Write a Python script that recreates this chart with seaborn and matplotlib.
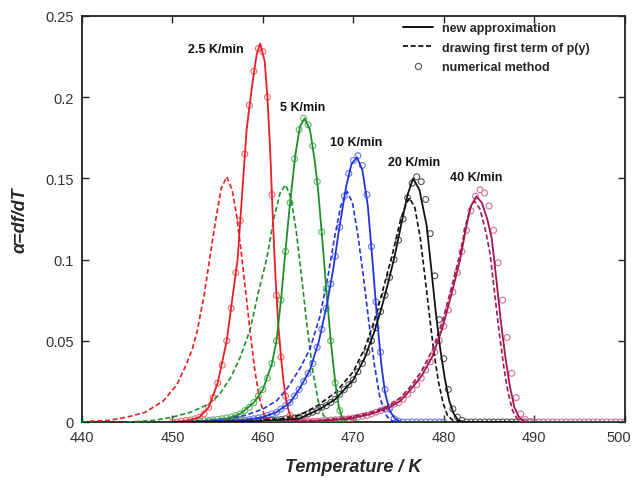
import numpy as np
import pandas as pd
import seaborn as sns
import matplotlib
matplotlib.use("Agg")
import matplotlib.pyplot as plt
import matplotlib.transforms as mtransforms
from matplotlib.lines import Line2D

# ---- data (T in K, alpha = df/dT) ----
rates = ["2.5 K/min", "5 K/min", "10 K/min", "20 K/min", "40 K/min"]
colors = ["#ee1c24", "#1f8f2a", "#2233e0", "#111111", "#a3164e"]
circle_colors = ["#f06a70", "#5fb868", "#6a78f0", "#555555", "#d0709a"]

# new approximation (solid)
red_T = [450, 451, 452, 453, 454, 455, 456, 456.6, 457.2, 457.7, 458.2, 458.8, 459.3, 459.7,
         460.2, 460.5, 460.8, 461.1, 461.4, 461.7, 462.0, 462.3, 462.6, 463.0, 463.5, 464, 470]
red_a = [0, 0.0005, 0.0012, 0.003, 0.009, 0.024, 0.05, 0.075, 0.10, 0.14, 0.18, 0.207, 0.226, 0.233,
         0.222, 0.20, 0.168, 0.125, 0.088, 0.06, 0.04, 0.024, 0.012, 0.004, 0.001, 0, 0]
green_T = [450, 454, 456, 457.5, 459, 460, 461, 461.5, 462, 462.4, 463, 463.6, 464.1, 464.6,
           465.2, 465.7, 466.1, 466.6, 467, 467.5, 468, 468.4, 468.8, 469.3, 470]
green_a = [0, 0.0005, 0.002, 0.005, 0.012, 0.02, 0.036, 0.05, 0.075, 0.1, 0.135, 0.165, 0.182, 0.187,
           0.18, 0.162, 0.143, 0.11, 0.082, 0.05, 0.024, 0.009, 0.002, 0, 0]
blue_T = [450, 456, 458, 460, 461.5, 463, 464, 465.2, 466.2, 467.1, 467.8, 468.4, 469.2, 469.8, 470.4,
          471, 471.6, 472.1, 472.6, 473.1, 473.5, 474, 474.6, 475.3, 480]
blue_a = [0, 0.0005, 0.001, 0.003, 0.006, 0.012, 0.02, 0.032, 0.05, 0.073, 0.095, 0.118, 0.145, 0.159, 0.163,
          0.155, 0.133, 0.1, 0.065, 0.035, 0.018, 0.007, 0.002, 0, 0]
black_T = [450, 460, 464, 466.3, 468, 470, 471.3, 472.4, 473.2, 473.9, 474.6, 475.3, 476.0, 476.6,
           477.3, 478.1, 478.6, 479.1, 479.6, 480.1, 480.6, 481.1, 481.6, 482.3, 488]
black_a = [0, 0.0005, 0.002, 0.008, 0.014, 0.026, 0.04, 0.057, 0.072, 0.087, 0.103, 0.122, 0.140, 0.150,
           0.143, 0.121, 0.095, 0.068, 0.045, 0.027, 0.013, 0.005, 0.001, 0, 0]
crim_T = [460, 466, 469.6, 472, 474, 475.2, 476.2, 477.5, 478.8, 479.9, 480.9, 481.8, 482.5, 483.0, 483.6,
          484.2, 484.8, 485.3, 485.8, 486.3, 486.8, 487.3, 487.8, 488.3, 488.8, 489.5, 500]
crim_a = [0, 0.0005, 0.002, 0.005, 0.009, 0.013, 0.019, 0.028, 0.041, 0.059, 0.08, 0.1, 0.121, 0.133, 0.139,
          0.135, 0.125, 0.113, 0.088, 0.062, 0.04, 0.022, 0.009, 0.003, 0.0005, 0, 0]

# drawing first term of p(y) (dashed)
red_d_T = [440, 441, 443, 445, 447, 449, 450.5, 451.5, 452.2, 452.7, 453.5, 454.1, 454.8, 455.4, 456.0,
           456.6, 457.1, 457.6, 458.1, 458.6, 459.1, 459.6, 460.1, 460.6, 461.5, 470]
red_d_a = [0, 0.0005, 0.001, 0.003, 0.006, 0.013, 0.023, 0.035, 0.045, 0.055, 0.078, 0.100, 0.125, 0.144, 0.151,
           0.143, 0.127, 0.105, 0.080, 0.055, 0.032, 0.015, 0.005, 0.001, 0, 0]
green_d_T = [445, 448, 450, 452, 454, 455.2, 456.5, 457.5, 458.6, 459.5, 460.4, 461.2, 461.9, 462.5,
             463.1, 463.7, 464.3, 464.9, 465.5, 466.1, 466.7, 467.3, 468, 470]
green_d_a = [0, 0.001, 0.003, 0.006, 0.011, 0.017, 0.028, 0.04, 0.057, 0.08, 0.1, 0.125, 0.141, 0.146,
             0.138, 0.117, 0.088, 0.058, 0.032, 0.013, 0.004, 0.001, 0, 0]
blue_d_T = [450, 453, 456, 458, 460, 461.5, 462.6, 464.1, 465.2, 466.3, 467.2, 467.9, 468.6, 469.3,
            469.9, 470.5, 471.1, 471.7, 472.3, 472.9, 473.5, 474.1, 475, 480]
blue_d_a = [0, 0.0005, 0.002, 0.004, 0.008, 0.013, 0.02, 0.033, 0.045, 0.065, 0.09, 0.113, 0.133, 0.142,
            0.135, 0.115, 0.09, 0.062, 0.036, 0.016, 0.005, 0.001, 0, 0]
black_d_T = [450, 459, 462, 464, 466, 468, 470, 471.3, 472.3, 473.2, 474.3, 475.2, 475.8, 476.2,
             476.8, 477.4, 477.9, 478.4, 478.9, 479.4, 479.9, 480.4, 481, 481.8, 488]
black_d_a = [0, 0.0008, 0.002, 0.004, 0.01, 0.018, 0.031, 0.046, 0.062, 0.08, 0.103, 0.124, 0.134, 0.138,
             0.132, 0.113, 0.09, 0.066, 0.043, 0.025, 0.012, 0.004, 0.001, 0, 0]
crim_d_T = [460, 466, 469.6, 472, 474, 475.2, 476.2, 477.5, 478.8, 479.9, 480.9, 481.8, 482.5, 483.0, 483.4,
            484.0, 484.6, 485.1, 485.6, 486.1, 486.6, 487.1, 487.6, 488.1, 488.7, 500]
crim_d_a = [0, 0.0008, 0.003, 0.006, 0.01, 0.015, 0.021, 0.031, 0.045, 0.063, 0.084, 0.104, 0.123, 0.133, 0.136,
            0.131, 0.118, 0.104, 0.08, 0.056, 0.035, 0.018, 0.007, 0.002, 0, 0]

# numerical method (circles), sampled every 0.5 K from the given start
circ_start = [450, 452, 454, 456, 464]
red_c = [0, 0, 0.0005, 0.001, 0.0012, 0.002, 0.003, 0.005, 0.009, 0.015,
         0.024, 0.035, 0.05, 0.07, 0.092, 0.124, 0.165, 0.195, 0.216, 0.23,
         0.228, 0.20, 0.14, 0.078, 0.04, 0.016, 0.004, 0.001, 0, 0,
         0, 0, 0, 0, 0, 0, 0, 0, 0, 0, 0]
green_c = [0, 0, 0.0005, 0.0007, 0.001, 0.0013, 0.0016, 0.002, 0.0025, 0.003,
           0.004, 0.005, 0.007, 0.009, 0.012, 0.016, 0.02, 0.027, 0.036, 0.05,
           0.075, 0.105, 0.135, 0.162, 0.18, 0.187, 0.183, 0.17, 0.148, 0.117,
           0.082, 0.05, 0.024, 0.007, 0.001, 0, 0]
blue_c = [0, 0, 0, 0.0005, 0.0005, 0.0007, 0.0008, 0.001, 0.001, 0.0015,
          0.002, 0.0025, 0.003, 0.004, 0.005, 0.006, 0.008, 0.01, 0.012, 0.016,
          0.02, 0.025, 0.03, 0.036, 0.046, 0.057, 0.07, 0.085, 0.102, 0.12,
          0.139, 0.153, 0.161, 0.164, 0.158, 0.14, 0.108, 0.074, 0.043, 0.02,
          0.008, 0.002, 0.0005, 0, 0, 0, 0, 0, 0, 0,
          0, 0, 0]
black_c = [0, 0, 0, 0, 0, 0.0003, 0.0005, 0.0006, 0.0008, 0.001,
           0.001, 0.0013, 0.0015, 0.002, 0.002, 0.0025, 0.003, 0.004, 0.005, 0.006,
           0.007, 0.009, 0.01, 0.012, 0.014, 0.017, 0.02, 0.023, 0.026, 0.031,
           0.036, 0.043, 0.05, 0.058, 0.068, 0.078, 0.089, 0.1, 0.112, 0.125,
           0.138, 0.147, 0.151, 0.148, 0.137, 0.116, 0.09, 0.063, 0.039, 0.02,
           0.008, 0.003, 0.001, 0, 0, 0, 0, 0, 0, 0,
           0, 0, 0, 0, 0, 0, 0, 0, 0]
crim_c = [0, 0, 0.0003, 0.0004, 0.0005, 0.0007, 0.001, 0.0012, 0.0014, 0.0016,
          0.0018, 0.002, 0.0025, 0.003, 0.0035, 0.004, 0.005, 0.006, 0.007, 0.008,
          0.009, 0.011, 0.012, 0.014, 0.017, 0.02, 0.023, 0.027, 0.032, 0.037,
          0.043, 0.05, 0.059, 0.069, 0.08, 0.092, 0.105, 0.118, 0.13, 0.139,
          0.143, 0.141, 0.133, 0.118, 0.098, 0.075, 0.052, 0.03, 0.015, 0.005,
          0.0015, 0.0003, 0, 0, 0, 0, 0, 0, 0, 0,
          0, 0, 0, 0, 0, 0, 0, 0, 0, 0,
          0, 0, 0]

label_T = [454.8, 464.4, 470.3, 476.7, 483.6]
label_a = [0.2297, 0.194, 0.1724, 0.160, 0.1509]

solid = [(red_T, red_a), (green_T, green_a), (blue_T, blue_a), (black_T, black_a), (crim_T, crim_a)]
dashed = [(red_d_T, red_d_a), (green_d_T, green_d_a), (blue_d_T, blue_d_a),
          (black_d_T, black_d_a), (crim_d_T, crim_d_a)]
circles = [red_c, green_c, blue_c, black_c, crim_c]

# ---- plot ----
sns.set_style("ticks")
plt.rcParams["font.family"] = ["Liberation Sans", "DejaVu Sans"]

fig = plt.figure(figsize=(6.33, 4.81), dpi=100)
ax = fig.add_axes([0.1295, 0.1206, 0.8575, 0.8441])

for i, rate in enumerate(rates):
    c = colors[i]
    circ_T = circ_start[i] + 0.5 * np.arange(len(circles[i]))
    sns.scatterplot(x=circ_T, y=circles[i], ax=ax, marker="o", s=18,
                    facecolor="none", edgecolor=circle_colors[i], linewidth=0.8, zorder=2)
    sns.lineplot(x=dashed[i][0], y=dashed[i][1], ax=ax, color=c, linewidth=1.2,
                 linestyle=(0, (3, 1.6)), zorder=3)
    sns.lineplot(x=solid[i][0], y=solid[i][1], ax=ax, color=c, linewidth=1.3, zorder=4)
    ax.text(label_T[i], label_a[i], rate, ha="center", va="center",
            fontsize=9, fontweight="bold", color="#111111")

ax.set_xlim(440, 500)
ax.set_ylim(0, 0.25)
ax.set_xticks([440, 450, 460, 470, 480, 490, 500])
ax.set_yticks([0, 0.05, 0.1, 0.15, 0.2, 0.25])
ax.set_yticklabels(["0", "0.05", "0.1", "0.15", "0.2", "0.25"])
ax.tick_params(direction="in", length=5, width=1, top=True, right=True,
               labelsize=10.5, labelcolor="#333333", pad=6)
for sp in ax.spines.values():
    sp.set_linewidth(1.3)
    sp.set_color("#222222")

# last x label sits a little left so it stays inside the figure, as in the reference
last = ax.get_xticklabels()[-1]
last.set_transform(last.get_transform() +
                   mtransforms.ScaledTranslation(-6 / 100, 0, fig.dpi_scale_trans))

ax.set_xlabel("Temperature / K", fontsize=13, fontweight="bold", fontstyle="italic", labelpad=10)
ax.set_ylabel("α=df/dT", fontsize=13, fontweight="bold", fontstyle="italic", labelpad=12)

handles = [Line2D([], [], color="black", linewidth=1.3),
           Line2D([], [], color="black", linewidth=1.2, linestyle=(0, (3, 1.6))),
           Line2D([], [], color="#555555", marker="o", linestyle="none", markersize=4.5,
                  markerfacecolor="none", markeredgewidth=0.8)]
leg = ax.legend(handles, ["new approximation", "drawing first term of p(y)", "numerical method"],
                loc="upper left", bbox_to_anchor=(0.592, 0.985), frameon=False,
                prop={"size": 9, "weight": "bold"}, handlelength=2.4, handletextpad=0.7,
                labelspacing=0.6, borderpad=0, borderaxespad=0)

fig.savefig("out.png", dpi=100)
